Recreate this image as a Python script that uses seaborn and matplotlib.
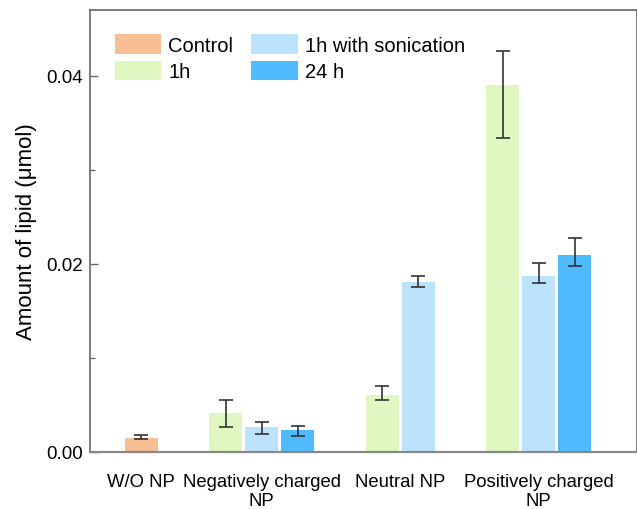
import numpy as np
import pandas as pd
import seaborn as sns
import matplotlib.pyplot as plt
from matplotlib.ticker import MultipleLocator

groups = ["W/O NP", "Negatively charged\nNP", "Neutral NP", "Positively charged\nNP"]
series = ["Control", "1h", "1h with sonication", "24 h"]
colors = ["#F8BF94", "#E0F7C1", "#BBE4FC", "#50BAFE"]

bar_group = [0, 1, 1, 1, 2, 2, 3, 3, 3]
bar_series = ["Control", "1h", "1h with sonication", "24 h",
              "1h", "1h with sonication",
              "1h", "1h with sonication", "24 h"]
values = [0.00149, 0.00415, 0.00266, 0.00237, 0.00606, 0.01809, 0.03904, 0.01872, 0.02099]
err_lo = [0.00015, 0.00152, 0.00074, 0.00067, 0.00056, 0.00056, 0.00564, 0.00078, 0.00120]
err_hi = [0.00030, 0.00138, 0.00056, 0.00043, 0.00096, 0.00067, 0.00365, 0.00135, 0.00174]

# bars sit side by side inside a group, with a wider gap between groups
gap = 2.35
pos = []
p = 0.0
for i, g in enumerate(bar_group):
    if i > 0:
        p += gap if g != bar_group[i - 1] else 1.0
    pos.append(round(p, 3))

df = pd.DataFrame({"pos": pos, "value": values, "series": bar_series, "group": bar_group})
centers = df.groupby("group")["pos"].mean().values

sns.set_style("white")
plt.rcParams["font.family"] = ["Liberation Sans", "DejaVu Sans"]
plt.rcParams["text.color"] = "black"
plt.rcParams["xtick.color"] = "black"
plt.rcParams["ytick.color"] = "black"
plt.rcParams["axes.labelcolor"] = "black"

fig = plt.figure(figsize=(6.37, 5.10), dpi=100)
ax = fig.add_axes([90 / 637, 1 - 453 / 510, 547 / 637, 442 / 510])

sns.barplot(data=df, x="pos", y="value", hue="series", hue_order=series,
            palette=dict(zip(series, colors)), saturation=1, native_scale=True,
            dodge=False, width=0.92, errorbar=None, linewidth=0, ax=ax)
ax.errorbar(pos, values, yerr=[err_lo, err_hi], fmt="none", ecolor="#333333",
            elinewidth=1.2, capsize=5, capthick=1.2, zorder=5)

ax.set_xlim(-1.42, 13.78)
ax.set_ylim(0, 0.047)
ax.set_xticks(centers)
ax.set_xticklabels(groups, fontsize=13.3, linespacing=1.2)
ax.tick_params(axis="x", length=0, pad=15)
ax.yaxis.set_major_locator(MultipleLocator(0.02))
ax.yaxis.set_minor_locator(MultipleLocator(0.01))
ax.yaxis.set_major_formatter(plt.FormatStrFormatter("%.2f"))
ax.tick_params(axis="y", which="major", left=True, direction="in", length=5.5,
               width=1, color="#666666", labelsize=13.5, pad=5)
ax.tick_params(axis="y", which="minor", left=True, direction="in", length=3.6,
               width=1, color="#666666")
ax.set_xlabel("")
ax.set_ylabel("Amount of lipid (\u03bcmol)", fontsize=16, labelpad=7)

for side in ["left", "top", "right"]:
    ax.spines[side].set_color("#666666")
    ax.spines[side].set_linewidth(1.2)
ax.spines["bottom"].set_color("#888888")
ax.spines["bottom"].set_linewidth(1.6)

sns.move_legend(ax, "upper left", bbox_to_anchor=(0.0457, 0.945), ncol=2,
                frameon=False, title=None, fontsize=14.5, borderaxespad=0,
                borderpad=0, handlelength=2.3, handleheight=1.1,
                handletextpad=0.35, labelspacing=0.3, columnspacing=0.9)

fig.savefig("out.png", dpi=100)
